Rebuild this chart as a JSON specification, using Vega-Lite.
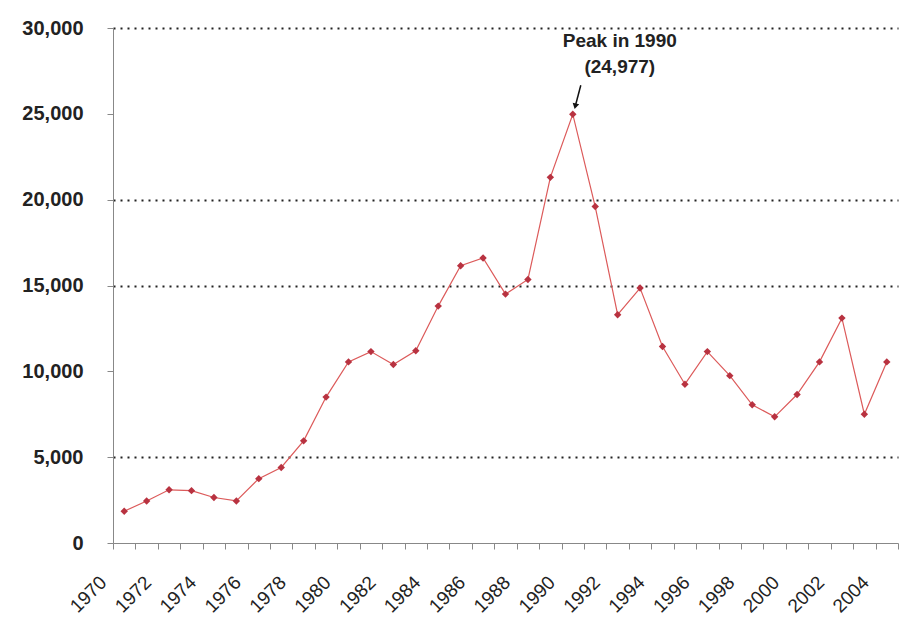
{
  "$schema": "https://vega.github.io/schema/vega-lite/v6.json",
  "width": 785,
  "height": 515,
  "autosize": {"type": "none"},
  "padding": {"left": 113, "top": 28, "right": 6, "bottom": 89},
  "background": "white",
  "config": {"view": {"stroke": null}, "font": "Liberation Sans"},
  "data": {
    "values": [
      {"year": 1970, "value": 1850},
      {"year": 1971, "value": 2450},
      {"year": 1972, "value": 3100},
      {"year": 1973, "value": 3050},
      {"year": 1974, "value": 2650},
      {"year": 1975, "value": 2450},
      {"year": 1976, "value": 3750},
      {"year": 1977, "value": 4400},
      {"year": 1978, "value": 5950},
      {"year": 1979, "value": 8500},
      {"year": 1980, "value": 10550},
      {"year": 1981, "value": 11150},
      {"year": 1982, "value": 10400},
      {"year": 1983, "value": 11200},
      {"year": 1984, "value": 13800},
      {"year": 1985, "value": 16150},
      {"year": 1986, "value": 16600},
      {"year": 1987, "value": 14500},
      {"year": 1988, "value": 15350},
      {"year": 1989, "value": 21300},
      {"year": 1990, "value": 24977},
      {"year": 1991, "value": 19600},
      {"year": 1992, "value": 13300},
      {"year": 1993, "value": 14850},
      {"year": 1994, "value": 11450},
      {"year": 1995, "value": 9250},
      {"year": 1996, "value": 11150},
      {"year": 1997, "value": 9750},
      {"year": 1998, "value": 8050},
      {"year": 1999, "value": 7350},
      {"year": 2000, "value": 8650},
      {"year": 2001, "value": 10550},
      {"year": 2002, "value": 13100},
      {"year": 2003, "value": 7500},
      {"year": 2004, "value": 10550}
    ]
  },
  "encoding": {
    "x": {
      "field": "year",
      "type": "quantitative",
      "scale": {"domain": [1969.5, 2004.5], "nice": false, "zero": false},
      "axis": {
        "title": null,
        "grid": false,
        "values": [1969.5, 1970.5, 1971.5, 1972.5, 1973.5, 1974.5, 1975.5, 1976.5, 1977.5, 1978.5, 1979.5, 1980.5, 1981.5, 1982.5, 1983.5, 1984.5, 1985.5, 1986.5, 1987.5, 1988.5, 1989.5, 1990.5, 1991.5, 1992.5, 1993.5, 1994.5, 1995.5, 1996.5, 1997.5, 1998.5, 1999.5, 2000.5, 2001.5, 2002.5, 2003.5, 2004.5],
        "labelExpr": "(datum.value + 0.5) % 2 == 0 ? format(datum.value + 0.5, 'd') : ''",
        "labelAngle": -45,
        "labelAlign": "right",
        "labelBaseline": "middle",
        "labelFontSize": 19,
        "labelColor": "#222222",
        "labelPadding": 30,
        "labelOffset": -10,
        "labelOverlap": false,
        "labelBound": false,
        "labelFlush": false,
        "tickSize": 6,
        "tickColor": "#888888",
        "domainColor": "#888888"
      }
    },
    "y": {
      "field": "value",
      "type": "quantitative",
      "scale": {"domain": [0, 30000], "nice": false},
      "axis": {
        "title": null,
        "values": [0, 5000, 10000, 15000, 20000, 25000, 30000],
        "format": ",.0f",
        "labelFontSize": 20,
        "labelFontWeight": "bold",
        "labelColor": "#222222",
        "labelPadding": 24,
        "tickSize": 6,
        "tickColor": "#888888",
        "domainColor": "#888888",
        "grid": true,
        "gridColor": "#222222",
        "gridDash": [2, 5],
        "gridWidth": 2,
        "gridOpacity": {
          "condition": {"test": "datum.value == 0 || datum.value == 10000 || datum.value == 25000", "value": 0},
          "value": 1
        }
      }
    }
  },
  "layer": [
    {"mark": {"type": "line", "color": "#dc5a5a", "strokeWidth": 1.2}},
    {"mark": {"type": "point", "shape": "diamond", "filled": true, "color": "#b83240", "size": 55, "opacity": 1}},
    {
      "transform": [{"filter": "datum.year == 1990"}],
      "mark": {"type": "text", "text": ["Peak in 1990", "(24,977)"], "fontWeight": "bold", "fontSize": 19, "dx": 47, "dy": -67, "align": "center", "baseline": "alphabetic", "lineHeight": 26, "color": "#222222"}
    },
    {
      "transform": [{"filter": "datum.year == 1990"}],
      "mark": {"type": "rule", "xOffset": 8, "yOffset": -29, "x2Offset": 3, "y2Offset": -10, "color": "#111111", "strokeWidth": 1.5},
      "encoding": {"x2": {"field": "year"}, "y2": {"field": "value"}}
    },
    {
      "transform": [{"filter": "datum.year == 1990"}],
      "mark": {"type": "point", "shape": "triangle-down", "filled": true, "color": "#111111", "size": 45, "angle": 13, "xOffset": 2.5, "yOffset": -8, "opacity": 1}
    }
  ]
}
